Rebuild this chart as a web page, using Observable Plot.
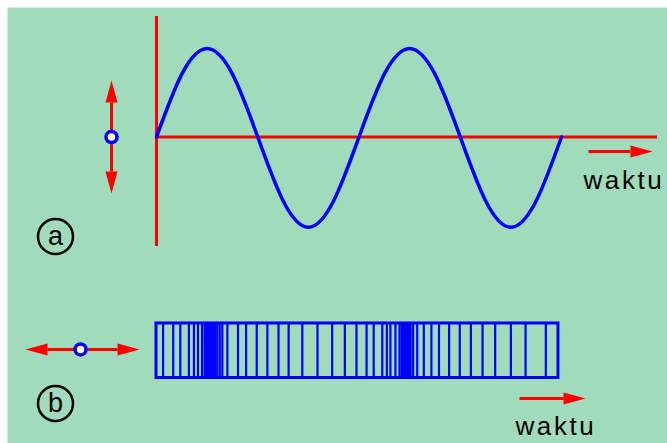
<!DOCTYPE html>
<html><head><meta charset="utf-8">
<script src="https://cdn.jsdelivr.net/npm/d3@7"></script>
<script src="https://cdn.jsdelivr.net/npm/@observablehq/plot@0.6"></script>
<style>
body{margin:0;background:#fff;}
svg text{letter-spacing:2.6px;}
</style>
</head><body><div id="chart"></div>
<script>
// (a) transverse wave: time in quarter periods, displacement in amplitude units
const waveT = [0, 0.5, 1, 1.5, 2, 2.5, 3, 3.5, 4, 4.5, 5, 5.5, 6, 6.5, 7, 7.5, 8];
const waveD = [0, 0.71, 1, 0.71, 0, -0.72, -1.02, -0.72, 0, 0.71, 1, 0.71, 0, -0.72, -1.02, -0.72, 0];

// (b) longitudinal wave: positions of the layers (same time units)
const layerT = [0.13, 0.33, 0.47, 0.64, 0.74, 0.82, 0.90, 0.95, 0.98, 1.01, 1.04, 1.07, 1.10, 1.13, 1.16,
  1.20, 1.25, 1.30, 1.40, 1.61, 1.77, 1.98, 2.19, 2.41, 2.61, 2.88, 3.18, 3.47, 3.72, 3.95, 4.15, 4.29,
  4.46, 4.55, 4.62, 4.72, 4.80, 4.84, 4.87, 4.90, 4.93, 4.96, 4.99, 5.02, 5.07, 5.15, 5.28, 5.43, 5.58,
  5.78, 5.99, 6.21, 6.44, 6.69, 7.00, 7.29, 7.69];
const stripT = [0, 7.94];

// text
const panelLabels = ["a", "b"];
const timeLabel = "waktu";

// layout of the diagram (scale units)
const stripY = [-2.107, -2.723];
const axisT = [0, 9.896], axisD = [1.362, -1.237];
const labelPos = [{t: -1.995, d: -1.124}, {t: -1.995, d: -3.011}];
const particles = [{t: -0.889, d: 0}, {t: -1.501, d: -2.401}];
const shafts = [
  {x1: 8.533, y1: -0.164, x2: 9.363, y2: -0.164},
  {x1: 7.170, y1: -2.955, x2: 8.040, y2: -2.955},
  {x1: -0.889, y1: 0.390, x2: -0.889, y2: -0.390},
  {x1: -2.153, y1: -2.401, x2: -0.770, y2: -2.401}
];
const heads = [
  {t: 9.363, d: -0.164, rot: 90},
  {t: 8.040, d: -2.955, rot: 90},
  {t: -0.889, d: 0.390, rot: 0},
  {t: -0.889, d: -0.390, rot: 180},
  {t: -2.153, d: -2.401, rot: 270},
  {t: -0.770, d: -2.401, rot: 90}
];
const timeText = [{t: 8.434, d: -0.582}, {t: 7.091, d: -3.362}];

const RED = "#ff0000", BLUE = "#0000ff", BG = "#a0dcbc";
const arrowHead = {draw(ctx) { ctx.moveTo(0, -22); ctx.lineTo(6, 0); ctx.lineTo(-6, 0); ctx.closePath(); }};

const wave = waveT.map((t, i) => ({t, d: waveD[i]}));

const chart = Plot.plot({
  width: 667, height: 443,
  marginTop: 7, marginLeft: 7, marginRight: 0, marginBottom: 0,
  style: {fontFamily: "Liberation Sans, Arial, sans-serif", background: "#fff"},
  x: {axis: null, domain: [0, 8], range: [156, 561]},
  y: {axis: null, domain: [-1, 1], range: [225, 48]},
  marks: [
    Plot.frame({fill: BG, stroke: "none"}),
    // axes of (a)
    Plot.ruleX([axisT[0]], {y1: axisD[0], y2: axisD[1], stroke: RED, strokeWidth: 3}),
    Plot.ruleY([0], {x1: axisT[0], x2: axisT[1], stroke: RED, strokeWidth: 3}),
    // transverse wave
    Plot.line(wave, {x: "t", y: "d", curve: "natural", stroke: BLUE, strokeWidth: 3.5}),
    // longitudinal wave
    Plot.ruleX(layerT, {y1: stripY[0], y2: stripY[1], stroke: BLUE, strokeWidth: 2.2}),
    Plot.rect([0], {x1: stripT[0], x2: stripT[1], y1: stripY[0], y2: stripY[1], fill: "none", stroke: BLUE, strokeWidth: 3}),
    // arrows
    Plot.link(shafts, {x1: "x1", y1: "y1", x2: "x2", y2: "y2", stroke: RED, strokeWidth: 3}),
    Plot.dot(heads, {x: "t", y: "d", rotate: "rot", symbol: arrowHead, fill: RED, stroke: "none"}),
    // particles
    Plot.dot(particles, {x: "t", y: "d", r: 5.5, fill: "#fff", stroke: BLUE, strokeWidth: 3.5}),
    // panel labels
    Plot.dot(labelPos, {x: "t", y: "d", r: 17.5, fill: "none", stroke: "#000", strokeWidth: 2.5}),
    Plot.text(labelPos, {x: "t", y: "d", text: (d, i) => panelLabels[i], fontSize: 27, fill: "#000", dx: 1.3}),
    // time labels
    Plot.text(timeText, {x: "t", y: "d", text: () => timeLabel, fontSize: 26, fill: "#000",
      textAnchor: "start", lineAnchor: "bottom"})
  ]
});
document.getElementById("chart").append(chart);
</script>
</body></html>
